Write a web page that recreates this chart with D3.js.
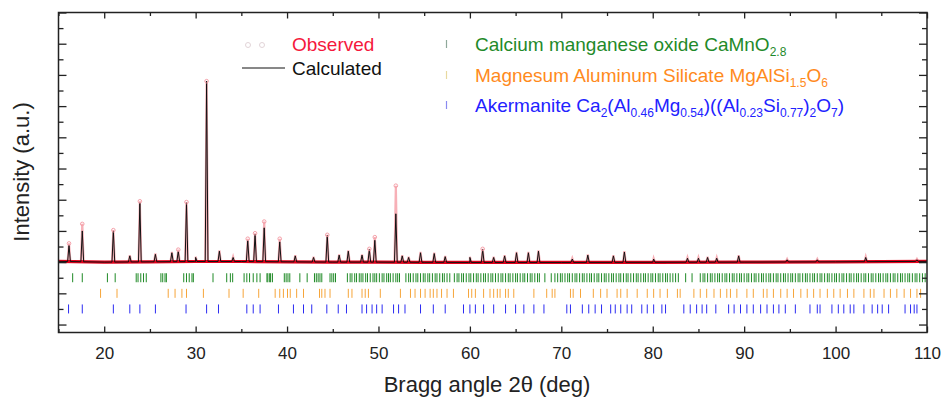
<!DOCTYPE html>
<html>
<head>
<meta charset="utf-8">
<script src="https://cdn.jsdelivr.net/npm/d3@7"></script>
<style>
body{margin:0;background:#fff;}
text{font-family:"Liberation Sans", Arial, sans-serif;}
</style>
</head>
<body>
<div id="chart"></div>
<script>
var width = 943, height = 404;
var margin = {top: 12.5, right: 16, bottom: 71.5, left: 58.5};

// background level (counts) read along the pattern
var bgAngles = [15, 20, 25, 30, 35, 40, 45, 50, 55, 60, 70, 80, 90, 100, 110];
var bgCounts = [4050, 4000, 4020, 4040, 4040, 4020, 4000, 4000, 3990, 3980, 3980, 3990, 4000, 4020, 4050];

// peaks: position (deg), calculated top, observed top (counts)
var peakPos = [16.15, 17.6, 21.0, 22.8, 23.9, 25.6, 27.4, 28.1, 29.0, 30.0, 31.2, 32.6, 34.1, 35.7, 36.5, 37.5, 39.2, 40.9, 42.9, 44.4, 45.7, 46.7, 48.2, 49.0, 49.6, 51.9, 52.6, 53.3, 54.6, 56.1, 57.3, 60.0, 61.4, 62.6, 63.8, 65.1, 66.4, 67.5, 71.2, 72.9, 75.7, 76.9, 80.1, 83.8, 85.0, 86.0, 87.0, 89.4, 94.7, 98.0, 103.3, 108.9];
var calcTop = [5100, 6000, 6000, 4400, 7800, 4500, 4600, 4700, 7800, 4300, 15600, 4700, 4300, 5400, 5800, 6200, 5300, 4400, 4300, 5700, 4450, 4700, 4450, 4800, 5400, 7100, 4400, 4300, 4600, 4550, 4350, 4300, 4800, 4300, 4400, 4600, 4600, 4700, 4200, 4450, 4400, 4650, 4200, 4250, 4250, 4300, 4250, 4400, 4150, 4150, 4300, 4150];
var obsTop = [5200, 6450, 6050, 4450, 7900, 4550, 4650, 4800, 7850, 4350, 15600, 4750, 4350, 5500, 5850, 6600, 5500, 4450, 4350, 5750, 4500, 4750, 4500, 4850, 5600, 8900, 4450, 4350, 4650, 4600, 4400, 4350, 4850, 4350, 4450, 4650, 4650, 4750, 4250, 4500, 4450, 4700, 4250, 4300, 4300, 4350, 4300, 4450, 4200, 4200, 4350, 4200];

// Bragg reflection positions (deg) for each phase
var greenTicks = [16.55, 17.6, 20.35, 21.2, 23.5, 23.7, 24.0, 24.3, 24.6, 26.2, 26.4, 26.65, 26.8, 28.7, 29.0, 29.3, 29.6, 29.75, 31.9, 33.4, 33.8, 34.05, 35.3, 35.6, 35.9, 36.3, 36.7, 37.05, 37.8, 37.9, 38.1, 38.2, 38.4, 39.7, 39.9, 40.1, 40.3, 41.4, 42.2, 43.0, 43.2, 43.4, 43.6, 43.8, 44.7, 44.9, 45.1, 45.3,
  46.6, 46.9, 47.1, 47.4, 47.6, 47.9, 48.1, 48.3, 48.6, 48.8, 49.1, 49.4, 49.6, 49.8, 50.1, 50.4, 50.6, 50.9, 51.1, 51.3, 51.6, 51.9, 52.1, 52.3, 53.0, 53.3, 53.5, 53.8, 54.1, 54.3, 54.6, 54.9, 55.1, 55.4, 55.6, 55.9, 56.2, 56.4, 56.7, 57.0, 57.2, 57.5, 57.8, 58.3, 58.6, 58.8, 59.1, 59.3, 59.6, 59.9, 60.1, 60.4, 60.7, 60.9, 61.2, 61.5, 61.7, 62.0, 62.3, 62.5, 62.8, 63.1,
  63.4, 63.6, 63.9, 64.2, 64.4, 64.7, 65.0, 65.2, 65.5, 65.8, 66.0, 66.3, 66.6, 66.8, 67.1, 67.4, 67.6, 68.2, 68.9, 69.3, 69.6, 69.9, 70.1, 70.4, 70.7, 70.9, 71.2, 71.5, 71.7, 72.0, 72.3, 72.5, 72.8, 73.1, 73.3, 73.6, 73.9, 74.1, 74.4, 74.7, 74.9, 75.2, 75.5, 75.7, 76.0, 76.3, 76.5, 76.8, 77.1, 77.3, 77.6, 77.9, 78.2, 78.4, 78.7, 79.0, 79.2, 79.5, 79.8, 80.0, 80.3, 80.6, 80.8, 81.1, 81.4, 81.6, 81.9, 82.2, 82.5, 82.8, 83.6, 84.3,
  85.2, 85.5, 85.7, 86.0, 86.3, 86.5, 86.8, 87.1, 87.3, 87.6, 87.9, 88.1, 88.4, 88.7, 88.9, 89.2, 89.5, 89.7, 90.0, 90.3, 90.5, 90.8, 91.1, 91.3, 91.6, 91.9, 92.1, 92.4, 92.7, 92.9, 93.2, 93.5, 93.7, 94.0, 94.3, 94.5, 94.8, 95.1, 95.3, 95.6, 95.9, 96.1, 96.4, 96.7, 96.9, 97.2, 97.5, 97.7, 98.0, 98.3, 98.5, 98.8, 99.1, 99.3, 99.6, 99.9, 100.1, 100.4, 100.7, 100.9, 101.2, 101.5, 101.7, 102.0, 102.3, 102.5, 102.8, 103.1, 103.3, 103.6, 103.9, 104.1, 104.4, 104.7, 104.9, 105.2, 105.5, 105.7, 106.0, 106.3, 106.5, 106.8, 107.1, 107.3, 107.6, 107.9, 108.1, 108.4, 108.7, 108.9, 109.2, 109.5, 109.8];
var orangeTicks = [19.6, 21.4, 27.0, 27.75, 28.5, 29.0, 30.85, 33.65, 35.2, 36.9, 38.7, 39.2, 39.6, 40.05, 40.35, 41.05, 41.8, 43.55, 43.8, 44.15, 44.7, 46.7, 47.1, 48.2, 48.55, 48.9, 50.2, 52.4, 53.5, 54.0, 54.6, 55.1, 55.65, 56.0, 56.4, 56.9, 57.5, 58.2, 59.85, 60.2, 60.6, 61.5, 62.2, 63.0,
  62.6, 63.3, 63.9, 64.2, 64.8, 67.0, 68.4, 69.0, 69.3, 71.0, 71.3, 72.1, 73.5, 74.3, 75.0, 76.1, 76.5, 77.2, 78.3, 79.4, 80.1, 80.8, 81.6, 82.7, 83.0, 84.5, 85.2, 85.9, 86.7, 87.4, 88.1, 88.5, 89.2, 90.3, 91.0, 92.1, 92.5, 93.2, 94.0, 94.7, 95.4, 96.2, 96.9, 97.6, 98.3, 99.1, 99.8, 100.5, 101.3, 102.0, 103.1, 103.8, 104.2, 105.3, 106.0, 106.7, 107.5, 108.2, 108.9, 109.3];
var blueTicks = [16.1, 17.6, 21.0, 22.8, 23.9, 25.6, 28.95, 31.2, 32.5, 35.6, 36.3, 37.05, 39.06, 40.7, 41.8, 42.7, 44.35, 45.6, 46.5, 48.2, 48.7, 49.3, 49.8, 50.4, 51.65, 52.2, 52.9, 54.6, 56.0, 57.3, 59.3, 60.0, 60.6, 61.5, 62.6,
  63.9, 65.0, 65.9, 67.0, 68.1, 70.6, 71.0, 72.3, 73.0, 73.7, 74.4, 75.4, 75.9, 76.5, 77.2, 77.7, 78.8, 79.4, 80.1, 81.0, 81.4, 83.4, 84.1, 84.8, 85.4, 85.9, 86.9, 88.3, 88.9, 89.6, 90.3, 91.0, 91.8, 92.5, 93.2, 93.8, 94.5, 95.6, 97.2, 98.0, 98.3, 99.6, 100.3, 100.9, 101.6, 102.0, 103.1, 104.0, 104.6, 105.1, 105.8, 107.6, 108.2, 108.6, 108.9];

var xMajor = [20, 30, 40, 50, 60, 70, 80, 90, 100, 110];
var xMinor = [15, 25, 35, 45, 55, 65, 75, 85, 95, 105];
var yMajor = [0, 2000, 4000, 6000, 8000, 10000, 12000, 14000, 16000, 18000, 20000];
var yMinor = [1000, 3000, 5000, 7000, 9000, 11000, 13000, 15000, 17000, 19000];

var phases = [
  {ticks: greenTicks, level: 3000, color: "#1f8a26"},
  {ticks: orangeTicks, level: 2000, color: "#f6a53a"},
  {ticks: blueTicks, level: 1000, color: "#2b2bf2"}
];

var svg = d3.select("#chart").append("svg")
  .attr("width", width)
  .attr("height", height);

var x = d3.scaleLinear().domain([15, 110]).range([margin.left, width - margin.right]);
var y = d3.scaleLinear().domain([-510, 20000]).range([height - margin.bottom, margin.top]);
var bg = d3.scaleLinear().domain(bgAngles).range(bgCounts);
var halfW = 0.15;

function patternPoints(tops){
  var pts = bgAngles.map(function(a, i){return [a, bgCounts[i]];});
  peakPos.forEach(function(p, i){
    pts.push([p - halfW, bg(p - halfW)]);
    pts.push([p, tops[i]]);
    pts.push([p + halfW, bg(p + halfW)]);
  });
  pts.sort(function(a, b){return a[0] - b[0];});
  return pts;
}

var line = d3.line()
  .x(function(d){return x(d[0]);})
  .y(function(d){return y(d[1]);});

var plot = svg.append("g");

// observed pattern (faint along peaks, solid red band on background)
plot.append("path")
  .datum(patternPoints(obsTop))
  .attr("fill", "none")
  .attr("stroke", "#f7b0b7")
  .attr("stroke-width", 2.2)
  .attr("d", line);

plot.append("path")
  .datum(bgAngles.map(function(a, i){return [a, bgCounts[i]];}))
  .attr("fill", "none")
  .attr("stroke", "#e3001b")
  .attr("stroke-width", 3.2)
  .attr("d", line);

plot.append("path")
  .datum(patternPoints(calcTop))
  .attr("fill", "none")
  .attr("stroke", "#111")
  .attr("stroke-width", 1)
  .attr("d", line);

plot.selectAll("circle.obs")
  .data(peakPos.filter(function(d, i){return obsTop[i] >= 4800;})).enter()
  .append("circle")
    .attr("class", "obs")
    .attr("cx", function(d){return x(d);})
    .attr("cy", function(d){return y(obsTop[peakPos.indexOf(d)]);})
    .attr("r", 1.8)
    .attr("fill", "none")
    .attr("stroke", "#f5a0a9")
    .attr("stroke-width", 1);

// Bragg position markers
phases.forEach(function(ph){
  plot.selectAll(null)
    .data(ph.ticks).enter()
    .append("line")
      .attr("x1", function(d){return x(d);})
      .attr("x2", function(d){return x(d);})
      .attr("y1", y(ph.level) - 4.5)
      .attr("y2", y(ph.level) + 4.5)
      .attr("stroke", ph.color)
      .attr("stroke-width", 1);
});

// axes, all ticks pointing inward
function styleAxis(g){
  g.select(".domain").remove();
  g.selectAll(".tick line").attr("stroke", "#222").attr("stroke-width", 1.3);
}

var bottom = height - margin.bottom;
svg.append("g").attr("transform", "translate(0," + bottom + ")")
  .call(d3.axisBottom(x).tickValues(xMajor).tickSize(-6).tickPadding(14).tickFormat(d3.format("d")))
  .call(styleAxis)
  .call(function(g){
    g.selectAll("text").attr("font-size", 17).attr("fill", "#222")
      .style("font-family", "'Liberation Sans', Arial, sans-serif");
  });
svg.append("g").attr("transform", "translate(0," + bottom + ")")
  .call(d3.axisBottom(x).tickValues(xMinor).tickSize(-3.5).tickFormat(""))
  .call(styleAxis);
svg.append("g").attr("transform", "translate(0," + margin.top + ")")
  .call(d3.axisTop(x).tickValues(xMajor).tickSize(-6).tickFormat(""))
  .call(styleAxis);
svg.append("g").attr("transform", "translate(0," + margin.top + ")")
  .call(d3.axisTop(x).tickValues(xMinor).tickSize(-3.5).tickFormat(""))
  .call(styleAxis);
svg.append("g").attr("transform", "translate(" + margin.left + ",0)")
  .call(d3.axisLeft(y).tickValues(yMajor).tickSize(-8).tickFormat(""))
  .call(styleAxis);
svg.append("g").attr("transform", "translate(" + margin.left + ",0)")
  .call(d3.axisLeft(y).tickValues(yMinor).tickSize(-5).tickFormat(""))
  .call(styleAxis);
svg.append("g").attr("transform", "translate(" + (width - margin.right) + ",0)")
  .call(d3.axisRight(y).tickValues(yMajor).tickSize(-8).tickFormat(""))
  .call(styleAxis);
svg.append("g").attr("transform", "translate(" + (width - margin.right) + ",0)")
  .call(d3.axisRight(y).tickValues(yMinor).tickSize(-5).tickFormat(""))
  .call(styleAxis);

svg.append("rect")
  .attr("x", margin.left)
  .attr("y", margin.top)
  .attr("width", width - margin.left - margin.right)
  .attr("height", height - margin.top - margin.bottom)
  .attr("fill", "none")
  .attr("stroke", "#222")
  .attr("stroke-width", 1.5);

svg.append("text")
  .attr("x", 487)
  .attr("y", 392)
  .attr("text-anchor", "middle")
  .attr("font-size", 22)
  .attr("fill", "#222")
  .text("Bragg angle 2\u03b8 (deg)");

svg.append("text")
  .attr("transform", "translate(29,172) rotate(-90)")
  .attr("text-anchor", "middle")
  .attr("font-size", 22)
  .attr("fill", "#222")
  .text("Intensity (a.u.)");

// legend
var legend = svg.append("g").attr("font-size", 19);

legend.selectAll("circle")
  .data([248, 262]).enter()
  .append("circle")
    .attr("cx", function(d){return d;})
    .attr("cy", 45)
    .attr("r", 2.5)
    .attr("fill", "none")
    .attr("stroke", "#e2d4d8");
legend.append("text").attr("x", 292).attr("y", 51).attr("fill", "#f5183c").text("Observed");
legend.append("line")
  .attr("x1", 242).attr("x2", 285).attr("y1", 68).attr("y2", 68)
  .attr("stroke", "#111").attr("stroke-width", 1);
legend.append("text").attr("x", 292).attr("y", 75).attr("fill", "#111").text("Calculated");

var phaseLegend = [
  {y: 51, color: "#1f8a2a", mark: "#8fa89a",
   parts: [["Calcium manganese oxide CaMnO", 0], ["2.8", 1]]},
  {y: 82, color: "#ff8a1c", mark: "#e8d9a0",
   parts: [["Magnesum Aluminum Silicate MgAlSi", 0], ["1.5", 1], ["O", 0], ["6", 1]]},
  {y: 112, color: "#2222ff", mark: "#8a8af0",
   parts: [["Akermanite Ca", 0], ["2", 1], ["(Al", 0], ["0.46", 1], ["Mg", 0], ["0.54", 1], [")((Al", 0], ["0.23", 1], ["Si", 0], ["0.77", 1], [")", 0], ["2", 1], ["O", 0], ["7", 1], [")", 0]]}
];

phaseLegend.forEach(function(item){
  legend.append("line")
    .attr("x1", 446.5).attr("x2", 446.5)
    .attr("y1", item.y - 11).attr("y2", item.y - 3)
    .attr("stroke", item.mark).attr("stroke-width", 1.2);
  var t = legend.append("text").attr("x", 475).attr("y", item.y).attr("fill", item.color);
  var low = false;
  item.parts.forEach(function(p){
    var span = t.append("tspan").text(p[0]);
    if(p[1] && !low){ span.attr("dy", 5).attr("font-size", 12); low = true; }
    else if(p[1]){ span.attr("font-size", 12); }
    else if(low){ span.attr("dy", -5); low = false; }
  });
});
</script>
</body>
</html>
